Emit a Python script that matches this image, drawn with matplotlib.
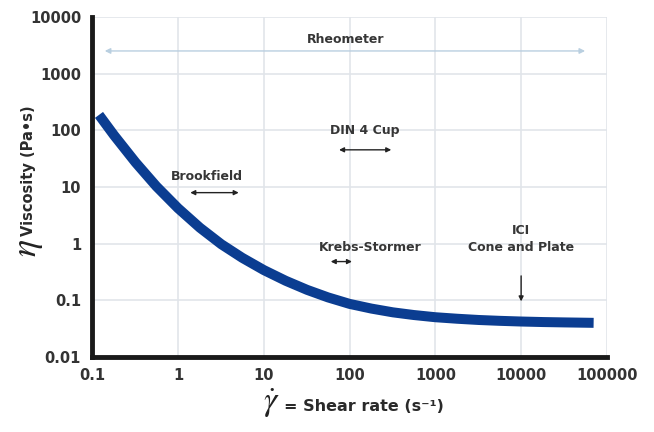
import matplotlib
matplotlib.use("Agg")
import matplotlib.pyplot as plt

plt.rcParams["mathtext.fontset"] = "stix"

# viscosity curve (about every quarter decade)
shear_rate = [0.12, 0.18, 0.32, 0.56, 1, 1.8, 3.2, 5.6, 10, 18, 32, 56, 100,
              180, 320, 560, 1000, 1800, 3200, 5600, 10000, 18000, 32000,
              70000]
viscosity = [186, 81, 27, 10.2, 4.2, 1.9, 0.97, 0.56, 0.34, 0.22, 0.152,
             0.112, 0.086, 0.071, 0.061, 0.0547, 0.050, 0.047, 0.0447,
             0.0432, 0.042, 0.0411, 0.0405, 0.0398]

x_ticks = [0.1, 1, 10, 100, 1000, 10000, 100000]
x_labels = ["0.1", "1", "10", "100", "1000", "10000", "100000"]
y_ticks = [0.01, 0.1, 1, 10, 100, 1000, 10000]
y_labels = ["0.01", "0.1", "1", "10", "100", "1000", "10000"]

# instrument ranges: (label, text x, text y, arrow x0, arrow x1, arrow y)
ranges = [
    ("Brookfield", 2.2, 15, 1.29, 5.5, 7.9),
    ("DIN 4 Cup", 150, 100, 70, 330, 45),
    ("Krebs-Stormer", 173, 0.86, 56, 115, 0.48),
]

text_col = "#363636"

fig = plt.figure(figsize=(6.54, 4.32), dpi=100)
ax = fig.add_axes([0.141, 0.174, 0.787, 0.787])
ax.set_xscale("log")
ax.set_yscale("log")
ax.set_xlim(0.1, 100000)
ax.set_ylim(0.01, 10000)

ax.grid(True, which="major", color="#e1e5ea", linewidth=1.2)
ax.minorticks_off()
for s in ["top", "right"]:
    ax.spines[s].set_visible(False)
for s in ["left", "bottom"]:
    ax.spines[s].set_linewidth(3.5)
    ax.spines[s].set_color("#1a1a1a")

ax.set_xticks(x_ticks)
ax.set_xticklabels(x_labels)
ax.set_yticks(y_ticks)
ax.set_yticklabels(y_labels)
ax.tick_params(length=0, pad=8, labelsize=10.5, labelcolor="#333333")
for lab in ax.get_xticklabels() + ax.get_yticklabels():
    lab.set_fontweight("bold")

ax.plot(shear_rate, viscosity, color="#0b3d91", linewidth=7.2,
        solid_capstyle="butt", solid_joinstyle="round", zorder=3)

# rheometer full range
ax.annotate("", xy=(60000, 2500), xytext=(0.13, 2500),
            arrowprops=dict(arrowstyle="<|-|>", color="#b9cfe0", lw=1,
                            mutation_scale=8))
ax.text(90, 4000, "Rheometer", ha="center", va="center", fontsize=9,
        fontweight="bold", color=text_col)

for name, tx, ty, x0, x1, ay in ranges:
    ax.text(tx, ty, name, ha="center", va="center", fontsize=9,
            fontweight="bold", color=text_col)
    ax.annotate("", xy=(x1, ay), xytext=(x0, ay),
                arrowprops=dict(arrowstyle="<|-|>", color="#222222", lw=1,
                                mutation_scale=7))

ax.text(10000, 1.2, "ICI\nCone and Plate", ha="center", va="center",
        fontsize=9, fontweight="bold", color=text_col, linespacing=1.45)
ax.annotate("", xy=(10000, 0.085), xytext=(10000, 0.3),
            arrowprops=dict(arrowstyle="-|>", color="#222222", lw=1,
                            mutation_scale=7))

# axis titles
fig.text(0.043, 0.425, r"$\eta$", fontsize=26, rotation=90, ha="center",
         va="center", color="#222222")
fig.text(0.043, 0.604, "Viscosity (Pa•s)", fontsize=10.5, rotation=90,
         fontweight="bold", ha="center", va="center", color="#2a2a2a")
fig.text(0.415, 0.066, r"$\dot{\gamma}$", fontsize=24, ha="center",
         va="center", color="#222222")
fig.text(0.557, 0.058, "= Shear rate (s⁻¹)", fontsize=11.5, ha="center",
         va="center", fontweight="bold", color="#2a2a2a")

fig.savefig("out.png", dpi=100)
